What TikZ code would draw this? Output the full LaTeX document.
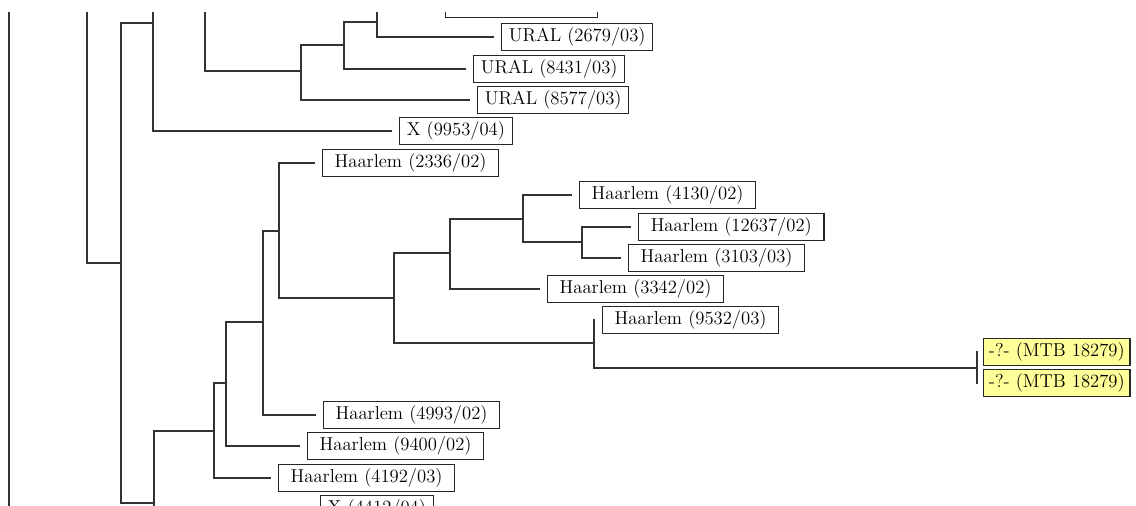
\documentclass[tikz,border=0pt]{standalone}
\usepackage{amsmath}
\usepackage{tikz}
\usepackage[dvipsnames]{xcolor}

\definecolor{queryyellow}{RGB}{255,255,153}
\tikzset{
  branch/.style={draw=black!80, line width=0.9pt},
  tobox/.style={branch, shorten >=5pt},
  leaf/.style={draw=black!85, line width=0.9pt, fill=white, anchor=west,
    inner xsep=5.5pt, inner ysep=0pt, minimum height=20pt,
    font=\fontsize{14}{16}\selectfont},
  haarlem/.style={leaf, minimum width=132pt},
  query/.style={leaf, fill=queryyellow, inner xsep=4pt},
}

\begin{document}
\begin{tikzpicture}[x=0.75pt,y=0.75pt,yscale=-1,xscale=1]
	\useasboundingbox (0,0) rectangle (1136,506);
	\clip (0,13) rectangle (1136,506);

	% Junctions
	\coordinate (r0t) at (9,-20);
	\coordinate (r0b) at (9,540);
	\coordinate (a0) at (87,-20);
	\coordinate (b) at (121,263);
	\coordinate (c0) at (153,-20);
	\coordinate (c) at (153,23);
	\coordinate (d0) at (205,-20);
	\coordinate (e) at (301,71);
	\coordinate (f) at (344,45);
	\coordinate (g) at (377,22);
	\coordinate (h) at (154,503);
	\coordinate (i) at (214,431);
	\coordinate (j) at (226,383);
	\coordinate (k) at (263,322);
	\coordinate (l) at (279,231);
	\coordinate (m) at (394,298);
	\coordinate (n) at (450,253);
	\coordinate (o) at (594,343);
	\coordinate (p) at (523,219);
	\coordinate (q) at (582,242);
	\coordinate (r) at (977,368);

	% Text Node
	\node [leaf, minimum width=114pt] (utop) at (445,4) {};
	% Text Node
	\node [leaf] (u2679) at (501,37) {URAL (2679/03)};
	% Text Node
	\node [leaf] (u8431) at (473,69) {URAL (8431/03)};
	% Text Node
	\node [leaf] (u8577) at (477,100) {URAL (8577/03)};
	% Text Node
	\node [leaf] (x9953) at (399,131) {X (9953/04)};
	% Text Node
	\node [haarlem] (h2336) at (322,163) {Haarlem (2336/02)};
	% Text Node
	\node [haarlem] (h4130) at (579,195) {Haarlem (4130/02)};
	% Text Node
	\node [haarlem, minimum width=139pt] (h12637) at (638,227) {Haarlem (12637/02)};
	% Text Node
	\node [haarlem] (h3103) at (628,258) {Haarlem (3103/03)};
	% Text Node
	\node [haarlem] (h3342) at (547,289) {Haarlem (3342/02)};
	% Text Node
	\node [haarlem] (h9532) at (602,320) {Haarlem (9532/03)};
	% Text Node
	\node [query] (y1) at (983,352) {-?- (MTB 18279)};
	% Text Node
	\node [query] (y2) at (983,383) {-?- (MTB 18279)};
	% Text Node
	\node [haarlem] (h4993) at (323,415) {Haarlem (4993/02)};
	% Text Node
	\node [haarlem] (h9400) at (307,446) {Haarlem (9400/02)};
	% Text Node
	\node [haarlem] (h4192) at (278,478) {Haarlem (4192/03)};
	% Text Node
	\node [leaf] (x4412) at (320,509) {X (4412/04)};

	%Straight Lines
	\draw [branch] (r0t) -- (r0b);
	\draw [branch] (a0) |- (b);
	\draw [branch] (b) |- (c);
	\draw [branch] (b) |- (h);
	\draw [branch] (c0) -- (c);
	\draw [tobox] (c) |- (x9953.west);
	\draw [branch] (d0) |- (e);
	\draw [branch] (e) |- (f);
	\draw [tobox] (e) |- (u8577.west);
	\draw [branch] (f) |- (g);
	\draw [tobox] (f) |- (u8431.west);
	\draw [tobox] (g) |- (utop.west);
	\draw [tobox] (g) |- (u2679.west);
	%Straight Lines
	\draw [branch] (h) |- (i);
	\draw [tobox] (h) |- (x4412.west);
	\draw [branch] (i) |- (j);
	\draw [tobox] (i) |- (h4192.west);
	\draw [branch] (j) |- (k);
	\draw [tobox] (j) |- (h9400.west);
	\draw [branch] (k) |- (l);
	\draw [tobox] (k) |- (h4993.west);
	\draw [tobox] (l) |- (h2336.west);
	\draw [branch] (l) |- (m);
	\draw [branch] (m) |- (n);
	\draw [branch] (m) |- (o);
	\draw [branch] (n) |- (p);
	\draw [tobox] (n) |- (h3342.west);
	\draw [tobox] (p) |- (h4130.west);
	\draw [branch] (p) |- (q);
	\draw [tobox] (q) |- (h12637.west);
	\draw [tobox] (q) |- (h3103.west);
	\draw [tobox] (o) |- (h9532.west);
	\draw [branch] (o) |- (r);
	\draw [tobox, shorten >=4pt] (r) |- (y1.west);
	\draw [tobox, shorten >=4pt] (r) |- (y2.west);
\end{tikzpicture}
\end{document}
